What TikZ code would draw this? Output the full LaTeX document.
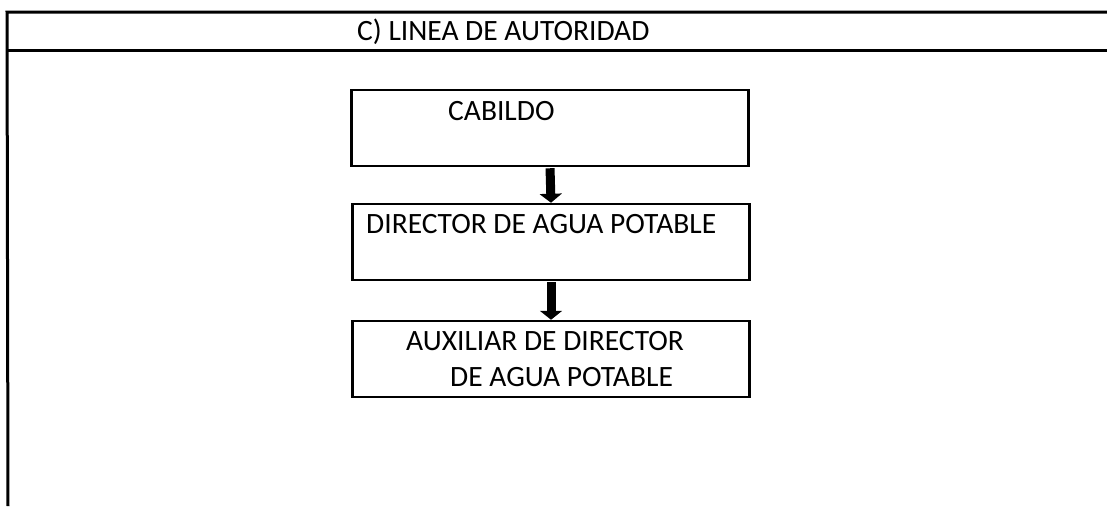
\documentclass[tikz,border=0pt]{standalone}
\usepackage{fontspec}
\setmainfont{Carlito}
\usetikzlibrary{arrows.meta}
\tikzset{
  box/.style={draw=black, line width=2.5pt, minimum width=397pt, minimum height=76pt, inner sep=0pt},
  txt/.style={font=\fontsize{29.5}{32}\selectfont, inner sep=0pt, anchor=west},
  bigarrow/.style={line width=9pt, -{Triangle[width=22pt,length=9pt]}, shorten <=1pt},
  frame/.style={line width=3pt}
}
\begin{document}
\begin{tikzpicture}[x=1pt,y=-1pt]
\useasboundingbox (0,0) rectangle (1107,506);
\coordinate (tl) at (7,12);
\coordinate (tr) at (1107,12);
\coordinate (ml) at (8,50);
\coordinate (mr) at (1107,50);
\coordinate (bl) at (8,506);
\draw[frame] (tr) -- (tl) -- (bl);
\draw[frame] (ml) -- (mr);
\node[txt] (title) at (357,32) {C) LINEA DE AUTORIDAD};
\node[box] (b1) at (550,128) {};
\node[box] (b2) at (551,242) {};
\node[box] (b3) at (551,359) {};
\node[txt] (t1) at (448,111) {CABILDO};
\node[txt] (t2) at (366,224) {DIRECTOR DE AGUA POTABLE};
\node[txt] (t3a) at (406,341) {AUXILIAR DE DIRECTOR};
\node[txt] (t3b) at (450,377) {DE AGUA POTABLE};
\draw[bigarrow] (b1.south) -- (b2.north);
\draw[bigarrow] (b2.south) -- (b3.north);
\end{tikzpicture}
\end{document}
